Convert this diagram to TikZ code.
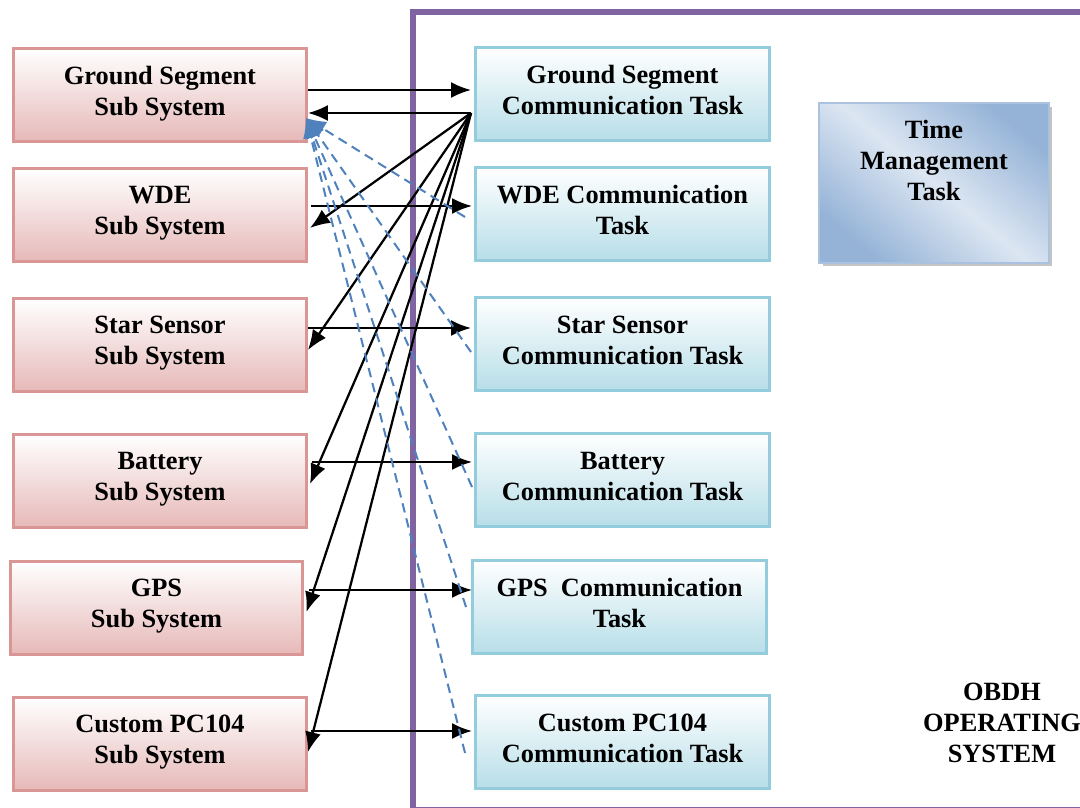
\documentclass[tikz,border=0pt]{standalone}
\usepackage{fontspec}
\setmainfont{Liberation Serif}
\usetikzlibrary{arrows.meta,calc,shadows}
\tikzset{>={Latex[length=4mm,width=3.2mm]}}
\definecolor{subdraw}{HTML}{D99694}
\definecolor{subfill}{HTML}{E6B9B8}
\definecolor{taskdraw}{HTML}{93CDDD}
\definecolor{taskfill}{HTML}{B7DEE8}
\definecolor{tmdark}{HTML}{95B3D7}
\definecolor{tmlight}{HTML}{DCE6F2}
\definecolor{osframe}{HTML}{8064A2}
\definecolor{dashblue}{HTML}{4F81BD}

\begin{document}
\begin{tikzpicture}[x=0.02cm,y=-0.02cm,
  font=\fontsize{15}{17.6}\selectfont\bfseries,
  sub/.style={draw=subdraw,line width=0.06cm,top color=white,bottom color=subfill,
    minimum width=5.86cm,minimum height=1.86cm,align=center,text depth=0.18cm},
  task/.style={draw=taskdraw,line width=0.06cm,top color=white,bottom color=taskfill,
    minimum width=5.88cm,minimum height=1.86cm,align=center,text depth=0.16cm},
  tmbox/.style={draw=tmdark!80,line width=0.04cm,top color=tmdark,bottom color=tmdark,
    middle color=tmlight,shading angle=-40,minimum width=4.6cm,minimum height=3.2cm,
    drop shadow={shadow xshift=0.07cm,shadow yshift=-0.07cm,fill=black!45}},
  fwd/.style={->,line width=0.045cm},
  ret/.style={->,dashblue,line width=0.04cm,dash pattern=on 0.19cm off 0.12cm}]
  \clip (0,0) rectangle (1080,808);
  % OBDH frame
  \draw[osframe,line width=0.11cm] (413,12) rectangle (1120,810);
  % Sub systems
  \node[sub] (gss)  at (160,95)  {Ground Segment\\Sub System};
  \node[sub] (wdes) at (160,215) {WDE\\Sub System};
  \node[sub] (sss)  at (160,345) {Star Sensor\\Sub System};
  \node[sub] (bats) at (160,481) {Battery\\Sub System};
  \node[sub] (gpss) at (156.5,608) {GPS\\Sub System};
  \node[sub] (pcs)  at (160,744) {Custom PC104\\Sub System};
  % Communication tasks
  \node[task] (gst)  at (622.5,94)  {Ground Segment\\Communication Task};
  \node[task] (wdet) at (622.5,214) {WDE Communication\\Task};
  \node[task] (sst)  at (622.5,344) {Star Sensor\\Communication Task};
  \node[task] (batt) at (622.5,480) {Battery\\Communication Task};
  \node[task] (gpst) at (619.5,607) {GPS~~Communication\\Task};
  \node[task] (pct)  at (622.5,742) {Custom PC104\\Communication Task};
  % Time management
  \node[tmbox] (tmt) at (934,183) {};
  \node[anchor=north,align=center] (tmtxt) at ([yshift=-0.24cm]tmt.north) {Time\\Management\\Task};
  \node[align=center] (os) at (1002,723) {OBDH\\OPERATING\\SYSTEM};
  % requests
  \draw[fwd] ([yshift=0.1cm]gss.east) -- ([yshift=0.1cm,xshift=-0.06cm]gss.east -| gst.west);
  \draw[fwd] ([yshift=0.18cm,xshift=0.06cm]wdes.east) -- ([yshift=0.18cm,xshift=-0.04cm]wdes.east -| wdet.west);
  \draw[fwd] ([yshift=0.34cm]sss.east) -- ([yshift=0.34cm,xshift=-0.06cm]sss.east -| sst.west);
  \draw[fwd] ([yshift=0.38cm,xshift=0.08cm]bats.east) -- ([yshift=0.38cm,xshift=-0.04cm]bats.east -| batt.west);
  \draw[fwd] ([yshift=0.36cm,xshift=0.1cm]gpss.east) -- ([yshift=0.36cm,xshift=0.02cm]gpss.east -| gpst.west);
  \draw[fwd] ([yshift=0.26cm,xshift=0.06cm]pcs.east) -- ([yshift=0.26cm,xshift=-0.04cm]pcs.east -| pct.west);
  % replies from ground segment task
  \coordinate (hub) at ([yshift=-0.38cm,xshift=-0.06cm]gst.west);
  \draw[fwd] (hub) -- (hub -| gss.east);
  \draw[fwd] (hub) -- ([yshift=-0.26cm,xshift=0.04cm]wdes.east);
  \draw[fwd] (hub) -- ([yshift=-0.1cm]sss.east);
  \draw[fwd] (hub) -- ([yshift=-0.06cm,xshift=0.04cm]bats.east);
  \draw[fwd] (hub) -- ([yshift=-0.08cm,xshift=0.04cm]gpss.east);
  \draw[fwd] (hub) -- ([yshift=-0.16cm]pcs.east);
  % status back to ground segment
  \coordinate (tgt) at ([yshift=-0.46cm,xshift=-0.04cm]gss.east);
  \draw[ret] ([xshift=-0.18cm,yshift=-0.06cm]wdet.west) -- (tgt);
  \draw[ret] ([xshift=-0.06cm,yshift=-0.16cm]sst.west) -- (tgt);
  \draw[ret] ([xshift=-0.04cm,yshift=-0.14cm]batt.west) -- (tgt);
  \draw[ret] ([xshift=-0.1cm]gpst.west) -- (tgt);
  \draw[ret] ([xshift=-0.18cm,yshift=-0.22cm]pct.west) -- (tgt);
\end{tikzpicture}
\end{document}
